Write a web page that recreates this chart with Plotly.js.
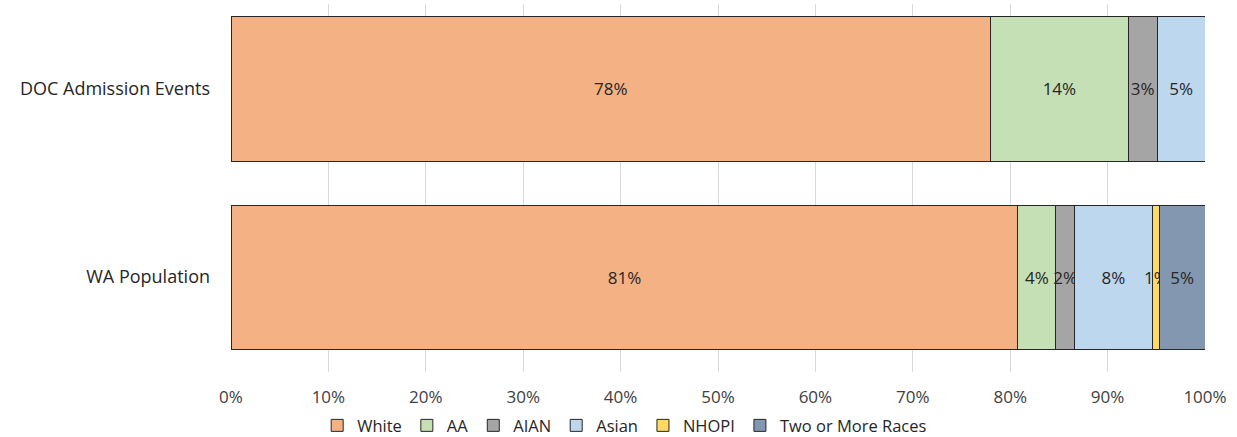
<!DOCTYPE html>
<html>
<head>
<meta charset="utf-8">
<script src="https://cdn.plot.ly/plotly-3.0.1.min.js"></script>
<style>html,body{margin:0;padding:0;background:#fff;}#chart{width:1237px;height:437px;}</style>
</head>
<body>
<div id="chart"></div>
<script>
const categories = ['DOC Admission Events', 'WA Population'];
const seriesNames = ['White', 'AA', 'AIAN', 'Asian', 'NHOPI', 'Two or More Races'];
const white = [78.0, 80.8];
const aa = [14.1, 3.9];
const aian = [3.0, 1.9];
const asian = [4.9, 8.0];
const nhopi = [null, 0.7];
const twoOrMore = [null, 4.7];
const colors = ['#F4B183', '#C5E0B4', '#A5A5A5', '#BDD7EE', '#FFD966', '#8497B0'];
const tickVals = [0, 10, 20, 30, 40, 50, 60, 70, 80, 90, 100];

const seriesValues = [white, aa, aian, asian, nhopi, twoOrMore];
const fontFam = 'Open Sans, Noto Sans, sans-serif';

const traces = seriesNames.map((name, i) => ({
  type: 'bar',
  orientation: 'h',
  name: name,
  y: categories,
  x: seriesValues[i],
  marker: {color: colors[i], line: {color: '#262626', width: 1}},
  texttemplate: '%{x:.0f}%',
  textposition: 'inside',
  insidetextanchor: 'middle',
  constraintext: 'none',
  textangle: 0,
  textfont: {family: fontFam, size: 17, color: '#262626'},
  hoverinfo: 'x+name'
}));

const layout = {
  width: 1237,
  height: 437,
  margin: {l: 231, r: 32, t: 4, b: 65},
  paper_bgcolor: '#ffffff',
  plot_bgcolor: '#ffffff',
  barmode: 'stack',
  bargap: 0.234,
  font: {family: fontFam, color: '#404040'},
  xaxis: {
    range: [0, 100],
    tickvals: tickVals,
    ticktext: tickVals.map(v => v + '%'),
    showgrid: true,
    gridcolor: '#d9d9d9',
    gridwidth: 1,
    zeroline: false,
    showline: false,
    ticks: '',
    ticklabelstandoff: 13,
    tickfont: {family: fontFam, size: 17, color: '#404040'},
    automargin: false,
    fixedrange: true
  },
  yaxis: {
    type: 'category',
    categoryorder: 'array',
    categoryarray: categories,
    range: [1.505, -0.452],
    showgrid: false,
    zeroline: false,
    showline: false,
    ticks: '',
    ticklabelstandoff: 20,
    tickfont: {family: fontFam, size: 18, color: '#262626'},
    automargin: false,
    fixedrange: true
  },
  legend: {
    orientation: 'h',
    xref: 'container', yref: 'container',
    x: 0.505, xanchor: 'center',
    y: 0.026, yanchor: 'middle',
    font: {family: fontFam, size: 16.5, color: '#262626'},
    traceorder: 'normal'
  },
  showlegend: true
};

Plotly.newPlot('chart', traces, layout, {displayModeBar: false, staticPlot: true});
</script>
</body>
</html>
